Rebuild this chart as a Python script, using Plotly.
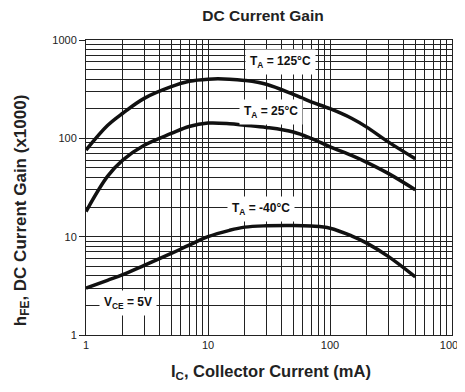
import plotly.graph_objects as go

# Data
ic_ma = [1, 1.5, 2, 3, 5, 7, 10, 15, 20, 30, 50, 70, 100, 150, 200, 300, 500]
hfe_125 = [76, 135, 180, 255, 335, 380, 400, 400, 388, 355, 280, 235, 200, 160, 130, 92, 62]
hfe_25 = [18, 41, 60, 85, 112, 132, 143, 141, 136, 129, 116, 100, 82, 67, 57, 44, 30]
hfe_m40 = [3.0, 3.6, 4.1, 5.1, 6.75, 8.2, 10.0, 11.6, 12.5, 12.9, 13.0, 12.8, 12.2, 10.2, 8.6, 6.3, 3.9]

major_vals = [1, 10, 100, 1000]
major_text = ["1", "10", "100", "1000"]
minor_vals = [m * d for d in [1, 10, 100] for m in range(2, 10)]

labels = [
    ("T<sub>A</sub> = 125°C", 280, 62),
    ("T<sub>A</sub> = 25°C", 271, 112),
    ("T<sub>A</sub> = -40°C", 261, 209),
    ("V<sub>CE</sub> = 5V", 128, 303),
]

# page body has an 8px default margin: size the figure to fit the window
OFF = 8
WIN_W, WIN_H = 465, 392
W, H = WIN_W - OFF, WIN_H - OFF
L, R, T, B = 86 - OFF, 13, 39.5 - OFF, 57
PW, PH = W - L - R, H - T - B


def px_x(px):
    return (px - OFF - L) / PW


def px_y(py):
    return 1 - (py - OFF - T) / PH


fig = go.Figure()
for ys in [hfe_125, hfe_25, hfe_m40]:
    fig.add_trace(go.Scatter(x=ic_ma, y=ys, mode="lines",
                             line=dict(color="#111", width=3.5, shape="spline", smoothing=1.0),
                             showlegend=False, hoverinfo="skip"))

font = "Liberation Sans, Arial, sans-serif"
axis_common = dict(type="log", range=[0, 3], showgrid=True, gridcolor="#222", gridwidth=1,
                   tickvals=major_vals, ticktext=major_text, zeroline=False,
                   showline=True, linecolor="#222", linewidth=1, automargin=False,
                   tickfont=dict(family=font, size=11, color="#222"),
                   minor=dict(tickvals=minor_vals, showgrid=True, gridcolor="#222", gridwidth=1, ticks=""),
                   layer="below traces")
fig.update_xaxes(**axis_common, ticks="", mirror=True)
fig.update_yaxes(**axis_common, ticks="outside", ticklen=6, tickcolor="#222", mirror=True)

anns = []
for txt, px, py in labels:
    anns.append(dict(text="<b>" + txt + "</b>", x=px_x(px), y=px_y(py),
                     xref="paper", yref="paper",
                     xanchor="center", yanchor="middle", showarrow=False,
                     font=dict(family=font, size=12, color="#111"),
                     bgcolor="white", borderpad=4))

fig.update_layout(
    width=W, height=H,
    margin=dict(l=L, r=R, t=T, b=B),
    paper_bgcolor="white", plot_bgcolor="white",
    title=dict(text="<b>DC Current Gain</b>", x=(263 - OFF) / W, xanchor="center",
               y=1 - (16 - OFF) / H, yanchor="middle",
               font=dict(family=font, size=15.5, color="#222")),
    annotations=anns + [
        dict(text="<b>I<sub>C</sub>, Collector Current (mA)</b>", xref="paper", yref="paper",
             x=px_x(271), y=px_y(372), xanchor="center", yanchor="middle",
             showarrow=False, font=dict(family=font, size=16.5, color="#222")),
        dict(text="<b>h<sub>FE</sub>, DC Current Gain (x1000)</b>", xref="paper", yref="paper",
             x=px_x(22), y=px_y(210), xanchor="center", yanchor="middle",
             textangle=-90, showarrow=False, font=dict(family=font, size=17, color="#222")),
    ],
)

fig.write_html("out.html")
